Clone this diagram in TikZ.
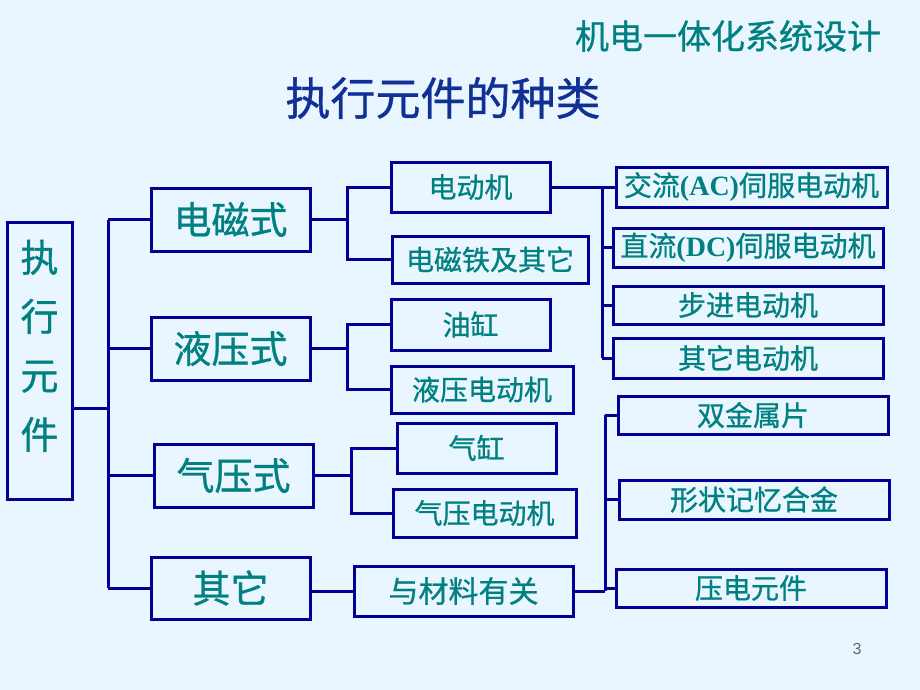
\documentclass[tikz,border=0pt]{standalone}
\usepackage{fontspec}
\setmainfont{Liberation Serif}
\newfontfamily\cjk[FakeBold=0.8]{Noto Sans CJK SC}
\newfontfamily\pagefont{Liberation Sans}
\definecolor{slidebg}{RGB}{234,246,255}
\definecolor{boxblue}{RGB}{0,0,150}
\definecolor{tealtext}{RGB}{0,128,128}
\definecolor{titleblue}{RGB}{16,48,150}

\tikzset{every picture/.style={line width=3pt}}
\tikzset{
  box/.style={draw=boxblue, line width=3pt, text=tealtext, inner sep=0pt, font=\cjk\fontsize{28}{30}\selectfont},
  bigbox/.style={box, font=\cjk\fontsize{38}{40}\selectfont},
  wire/.style={draw=boxblue, line width=3pt}
}

\begin{document}
\begin{tikzpicture}[x=1pt,y=1pt,yscale=-1]
%background, 920 x 690
\fill [slidebg] (0,0) rectangle (920,690);
\useasboundingbox (0,0) rectangle (920,690);

% Text Node
\node (course) at (728,36) [text=tealtext, font=\cjk\fontsize{34}{36}\selectfont] {机电一体化系统设计};
% Text Node
\node (title) at (443,98) [text=titleblue, font=\cjk\fontsize{45}{47}\selectfont] {执行元件的种类};

%Level 1
\node (act) at (39.5,360.5) [bigbox, minimum width=65, minimum height=277, font=\cjk\fontsize{38}{59}\selectfont]
  {\raisebox{12pt}[\height][\depth]{\begin{tabular}{@{}c@{}}执\\行\\元\\件\end{tabular}}};
\node (emag) at (230.5,219.5) [bigbox, minimum width=159, minimum height=63] {电磁式};
\node (hyd) at (230.5,348.5) [bigbox, minimum width=159, minimum height=63] {液压式};
\node (pneu) at (233.5,475.5) [bigbox, minimum width=159, minimum height=63] {气压式};
\node (oth) at (230.5,588) [bigbox, minimum width=159, minimum height=62] {其它};

%Level 2
\node (motor) at (470.5,187) [box, minimum width=159, minimum height=50] {电动机};
\node (emagnet) at (490,259.5) [box, minimum width=196, minimum height=47] {电磁铁及其它};
\node (oilcyl) at (470.5,324.5) [box, minimum width=159, minimum height=51] {油缸};
\node (hydmotor) at (482,389.5) [box, minimum width=182, minimum height=47] {液压电动机};
\node (aircyl) at (476.5,448) [box, minimum width=159, minimum height=50] {气缸};
\node (pneumotor) at (484.5,513) [box, minimum width=183, minimum height=48] {气压电动机};
\node (material) at (463.5,591) [box, minimum width=219, minimum height=50, font=\cjk\fontsize{30}{32}\selectfont] {与材料有关};

%Level 3
\node (acmotor) at (751.5,187) [box, minimum width=271, minimum height=40] {交流\textbf{\fontspec{Liberation Serif}(AC)}伺服电动机};
\node (dcmotor) at (748,247.5) [box, minimum width=270, minimum height=39] {直流\textbf{\fontspec{Liberation Serif}(DC)}伺服电动机};
\node (stepmotor) at (748,305) [box, minimum width=270, minimum height=38] {步进电动机};
\node (othmotor) at (748,358) [box, minimum width=270, minimum height=40] {其它电动机};
\node (bimetal) at (753,415) [box, minimum width=270, minimum height=38] {双金属片};
\node (sma) at (754,499.5) [box, minimum width=270, minimum height=39] {形状记忆合金};
\node (piezo) at (751,588) [box, minimum width=270, minimum height=38] {压电元件};

%Junctions
\coordinate (j1) at (108,408);
\coordinate (j2) at (347,219.5);
\coordinate (j3) at (347,348.5);
\coordinate (j4) at (351,475.5);
\coordinate (j5) at (602,187);
\coordinate (j6) at (605,591);

%Straight Lines
\draw [wire] (act.east |- j1) -- (j1);
\draw [wire] (j1 |- emag) -- (j1 |- oth);
\foreach \n in {emag,hyd,pneu,oth}
  \draw [wire] (j1 |- \n) -- (\n.west);

%Straight Lines
\draw [wire] (emag.east) -- (j2);
\draw [wire] (motor.west) -| (j2) |- (emagnet.west);
\draw [wire] (hyd.east) -- (j3);
\draw [wire] (oilcyl.west) -| (j3) |- (hydmotor.west);
\draw [wire] (pneu.east) -- (j4);
\draw [wire] (aircyl.west) -| (j4) |- (pneumotor.west);
\draw [wire] (oth.east |- material) -- (material.west);

%Straight Lines
\draw [wire] (motor.east) -- (j5);
\draw [wire] (j5) -- (j5 |- othmotor);
\foreach \n in {acmotor,dcmotor,stepmotor,othmotor}
  \draw [wire] (j5 |- \n) -- (\n.west);
\draw [wire] (material.east) -- (j6);
\draw [wire] (j6 |- bimetal) -- (j6);
\foreach \n in {bimetal,sma,piezo}
  \draw [wire] (j6 |- \n) -- (\n.west);

% Text Node
\node (pagenum) at (857,649) [text=black!60, font=\pagefont\fontsize{16}{18}\selectfont] {3};

\end{tikzpicture}
\end{document}
